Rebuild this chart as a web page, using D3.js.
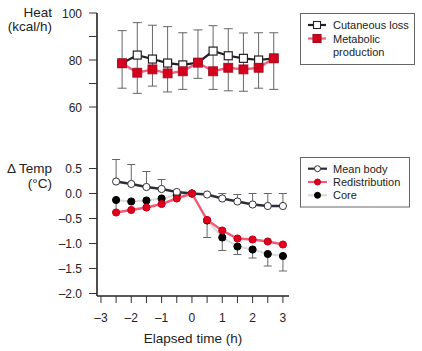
<!DOCTYPE html>
<html>
<head>
<meta charset="utf-8">
<script src="https://cdn.jsdelivr.net/npm/d3@7"></script>
<style>
  body { margin: 0; background: #fff; }
  svg { font-family: "Liberation Sans", Arial, sans-serif; }
</style>
</head>
<body>
<div id="chart"></div>
<script>
// upper panel: heat (kcal/h)
const heatTimes = [-2.5, -2, -1.5, -1, -0.5, 0, 0.5, 1, 1.5, 2, 2.5];
const cutaneous = [78.6, 82.1, 80.4, 78.7, 77.9, 78.9, 83.8, 81.8, 80.7, 80.0, 80.7];
const metabolic = [78.6, 74.6, 76.0, 74.3, 75.2, 78.9, 75.2, 76.7, 76.0, 76.7, 80.7];
const heatErrTop = [92.5, 95.9, 94.8, 94.2, 91.6, 92.8, 94.6, 93.3, 91.5, 91.6, 91.6];
const heatErrBottom = [68.0, 65.8, 68.9, 66.4, 67.5, 72.2, 67.5, 66.9, 66.7, 68.0, 67.5];

// lower panel: change in temperature (°C)
const tempTimes = [-2.5, -2, -1.5, -1, -0.5, 0, 0.5, 1, 1.5, 2, 2.5, 3];
const meanBody = [0.24, 0.19, 0.13, 0.09, 0.03, 0.0, -0.02, -0.10, -0.16, -0.22, -0.25, -0.25];
const meanBodyErrTop = [0.68, 0.58, 0.44, 0.28, null, null, null, 0.0, -0.02, 0.0, 0.0, 0.0];
const redistribution = [-0.38, -0.33, -0.28, -0.21, -0.10, 0.0, -0.53, -0.74, -0.90, -0.92, -0.96, -1.02];
const core = [-0.13, -0.16, -0.14, -0.10, -0.03, 0.0, -0.54, -0.88, -1.06, -1.12, -1.21, -1.25];
const coreErrBottom = [-0.36, null, null, null, null, null, -0.88, -1.14, -1.22, -1.29, -1.45, -1.55];

const xTicks = [-3, -2, -1, 0, 1, 2, 3];
const xMinorTicks = d3.range(-3, 3.01, 0.5);
const heatTicks = [100, 90, 80, 70, 60];
const heatLabels = [100, 80, 60];
const tempTicks = [0.5, 0.0, -0.5, -1.0, -1.5, -2.0];

const width = 422, height = 351;
const axisX = 97, axisBottom = 296;

const svg = d3.select("#chart").append("svg")
    .attr("width", width)
    .attr("height", height);

const x = d3.scaleLinear().domain([-3.13, 3.2]).range([axisX, 289]);
// the upper panel sits a few pixels to the right in the original figure
const xHeat = d3.scaleLinear().domain([-3.13, 3.2]).range([axisX + 6, 295]);
const yHeat = d3.scaleLinear().domain([60, 100]).range([107, 13]);
const yTemp = d3.scaleLinear().domain([-2, 0]).range([293.5, 193.5]);

const fmtMinus = s => String(s).replace("-", "\u2013");

// axes
svg.append("line")
    .attr("x1", axisX).attr("x2", axisX)
    .attr("y1", 13).attr("y2", axisBottom)
    .attr("stroke", "#222").attr("stroke-width", 1.6);
svg.append("line")
    .attr("x1", axisX).attr("x2", 289)
    .attr("y1", axisBottom).attr("y2", axisBottom)
    .attr("stroke", "#222").attr("stroke-width", 1.6);

svg.selectAll(".xtick")
    .data(xMinorTicks)
    .enter()
    .append("line")
    .attr("x1", d => x(d)).attr("x2", d => x(d))
    .attr("y1", axisBottom).attr("y2", axisBottom + 7)
    .attr("stroke", "#333").attr("stroke-width", 1);

svg.selectAll(".xlabel")
    .data(xTicks)
    .enter()
    .append("text")
    .attr("x", d => x(d))
    .attr("y", 322)
    .attr("text-anchor", "middle")
    .style("font-size", "12px")
    .attr("fill", "#222")
    .text(d => fmtMinus(d));

svg.append("text")
    .attr("x", 193)
    .attr("y", 343)
    .attr("text-anchor", "middle")
    .style("font-size", "13.5px")
    .attr("fill", "#222")
    .text("Elapsed time (h)");

// y ticks
svg.selectAll(".hytick")
    .data(heatTicks)
    .enter()
    .append("line")
    .attr("x1", axisX - 8).attr("x2", axisX)
    .attr("y1", d => yHeat(d)).attr("y2", d => yHeat(d))
    .attr("stroke", "#333").attr("stroke-width", 1);
svg.selectAll(".hylabel")
    .data(heatLabels)
    .enter()
    .append("text")
    .attr("x", 82)
    .attr("y", d => yHeat(d) + 4.5)
    .attr("text-anchor", "end")
    .style("font-size", "12px")
    .attr("fill", "#222")
    .text(d => d);

svg.selectAll(".tytick")
    .data(tempTicks)
    .enter()
    .append("line")
    .attr("x1", axisX - 8).attr("x2", axisX)
    .attr("y1", d => yTemp(d)).attr("y2", d => yTemp(d))
    .attr("stroke", "#333").attr("stroke-width", 1);
svg.selectAll(".tylabel")
    .data(tempTicks)
    .enter()
    .append("text")
    .attr("x", 82)
    .attr("y", d => yTemp(d) + 4.5)
    .attr("text-anchor", "end")
    .style("font-size", "12px")
    .attr("fill", "#222")
    .text(d => fmtMinus(d.toFixed(1)));

// axis titles
const titles = [
    { text: "Heat", y: 17 },
    { text: "(kcal/h)", y: 31 },
    { text: "\u0394 Temp", y: 173 },
    { text: "(\u00b0C)", y: 188 }
];
svg.selectAll(".ytitle")
    .data(titles)
    .enter()
    .append("text")
    .attr("x", 52)
    .attr("y", d => d.y)
    .attr("text-anchor", "end")
    .style("font-size", "13.5px")
    .attr("fill", "#222")
    .text(d => d.text);

// ---------- upper panel ----------
const errColor = "#666";
const heatBars = svg.append("g");
heatTimes.forEach((t, i) => {
    const cx = xHeat(t);
    heatBars.append("line")
        .attr("x1", cx).attr("x2", cx)
        .attr("y1", yHeat(heatErrTop[i])).attr("y2", yHeat(heatErrBottom[i]))
        .attr("stroke", errColor).attr("stroke-width", 1);
    [heatErrTop[i], heatErrBottom[i]].forEach(v => {
        heatBars.append("line")
            .attr("x1", cx - 4.5).attr("x2", cx + 4.5)
            .attr("y1", yHeat(v)).attr("y2", yHeat(v))
            .attr("stroke", errColor).attr("stroke-width", 1);
    });
});

const heatLine = vals => d3.line()
    .x((d, i) => xHeat(heatTimes[i]))
    .y(d => yHeat(d))(vals);

svg.append("path")
    .attr("d", heatLine(cutaneous))
    .attr("fill", "none")
    .attr("stroke", "#1e2129")
    .attr("stroke-width", 2.2);
svg.selectAll(".cutSq")
    .data(cutaneous)
    .enter()
    .append("rect")
    .attr("x", (d, i) => xHeat(heatTimes[i]) - 4)
    .attr("y", d => yHeat(d) - 4)
    .attr("width", 8).attr("height", 8)
    .attr("fill", "#fff")
    .attr("stroke", "#222")
    .attr("stroke-width", 1.2);

svg.append("path")
    .attr("d", heatLine(metabolic))
    .attr("fill", "none")
    .attr("stroke", "#f2607c")
    .attr("stroke-width", 2.4);
svg.selectAll(".metSq")
    .data(metabolic)
    .enter()
    .append("rect")
    .attr("x", (d, i) => xHeat(heatTimes[i]) - 4.5)
    .attr("y", d => yHeat(d) - 4.5)
    .attr("width", 9).attr("height", 9)
    .attr("fill", "#d4001e")
    .attr("stroke", "#9a1020")
    .attr("stroke-width", 0.8);

// ---------- lower panel ----------
const tempBars = svg.append("g");
tempTimes.forEach((t, i) => {
    const cx = x(t);
    if (meanBodyErrTop[i] !== null) {
        tempBars.append("line")
            .attr("x1", cx).attr("x2", cx)
            .attr("y1", yTemp(meanBody[i])).attr("y2", yTemp(meanBodyErrTop[i]))
            .attr("stroke", errColor).attr("stroke-width", 1);
        tempBars.append("line")
            .attr("x1", cx - 4).attr("x2", cx + 4)
            .attr("y1", yTemp(meanBodyErrTop[i])).attr("y2", yTemp(meanBodyErrTop[i]))
            .attr("stroke", errColor).attr("stroke-width", 1);
    }
    if (coreErrBottom[i] !== null) {
        tempBars.append("line")
            .attr("x1", cx).attr("x2", cx)
            .attr("y1", yTemp(core[i])).attr("y2", yTemp(coreErrBottom[i]))
            .attr("stroke", errColor).attr("stroke-width", 1);
        tempBars.append("line")
            .attr("x1", cx - 4).attr("x2", cx + 4)
            .attr("y1", yTemp(coreErrBottom[i])).attr("y2", yTemp(coreErrBottom[i]))
            .attr("stroke", errColor).attr("stroke-width", 1);
    }
});

const tempLine = vals => d3.line()
    .x((d, i) => x(tempTimes[i]))
    .y(d => yTemp(d))(vals);

function drawSeries(vals, lineColor, lineWidth, fill, stroke, r, cls) {
    svg.append("path")
        .attr("d", tempLine(vals))
        .attr("fill", "none")
        .attr("stroke", lineColor)
        .attr("stroke-width", lineWidth);
    svg.selectAll("." + cls)
        .data(vals)
        .enter()
        .append("circle")
        .attr("class", cls)
        .attr("cx", (d, i) => x(tempTimes[i]))
        .attr("cy", d => yTemp(d))
        .attr("r", r)
        .attr("fill", fill)
        .attr("stroke", stroke)
        .attr("stroke-width", 1);
}

drawSeries(core, "#dadada", 2, "#000", "#000", 3.6, "coreDot");
drawSeries(meanBody, "#2a2e39", 2.4, "#fff", "#333", 3.6, "meanDot");
drawSeries(redistribution, "#f25a78", 2.4, "#e0001c", "#c00018", 3.6, "redDot");

// ---------- legends ----------
function legendBox(x0, y0, w, h) {
    svg.append("rect")
        .attr("x", x0).attr("y", y0)
        .attr("width", w).attr("height", h)
        .attr("fill", "#fff")
        .attr("stroke", "#666")
        .attr("stroke-width", 1);
}

legendBox(300.5, 13.5, 114, 51);
const heatLegend = [
    { label: ["Cutaneous loss"], y: 25, line: "#1e2129", fill: "#fff", stroke: "#222", s: 7 },
    { label: ["Metabolic", "production"], y: 38.5, line: "#f2607c", fill: "#d4001e", stroke: "#9a1020", s: 8 }
];
heatLegend.forEach(d => {
    svg.append("line")
        .attr("x1", 308).attr("x2", 326)
        .attr("y1", d.y).attr("y2", d.y)
        .attr("stroke", d.line).attr("stroke-width", 2.2);
    svg.append("rect")
        .attr("x", 317 - d.s / 2).attr("y", d.y - d.s / 2)
        .attr("width", d.s).attr("height", d.s)
        .attr("fill", d.fill).attr("stroke", d.stroke).attr("stroke-width", 1.1);
    d.label.forEach((t, j) => {
        svg.append("text")
            .attr("x", 333)
            .attr("y", d.y + 4 + j * 13.5)
            .style("font-size", "11px")
            .attr("fill", "#222")
            .text(t);
    });
});

legendBox(300.5, 157.5, 109, 49.5);
const tempLegend = [
    { label: "Mean body", y: 168.7, line: "#2a2e39", fill: "#fff", stroke: "#333" },
    { label: "Redistribution", y: 182, line: "#f25a78", fill: "#e0001c", stroke: "#c00018" },
    { label: "Core", y: 195.3, line: "#dadada", fill: "#000", stroke: "#000" }
];
tempLegend.forEach(d => {
    svg.append("line")
        .attr("x1", 308).attr("x2", 327)
        .attr("y1", d.y).attr("y2", d.y)
        .attr("stroke", d.line).attr("stroke-width", 2.2);
    svg.append("circle")
        .attr("cx", 317.5).attr("cy", d.y)
        .attr("r", 3)
        .attr("fill", d.fill).attr("stroke", d.stroke).attr("stroke-width", 1);
    svg.append("text")
        .attr("x", 333)
        .attr("y", d.y + 4)
        .style("font-size", "11px")
        .attr("fill", "#222")
        .text(d.label);
});
</script>
</body>
</html>
